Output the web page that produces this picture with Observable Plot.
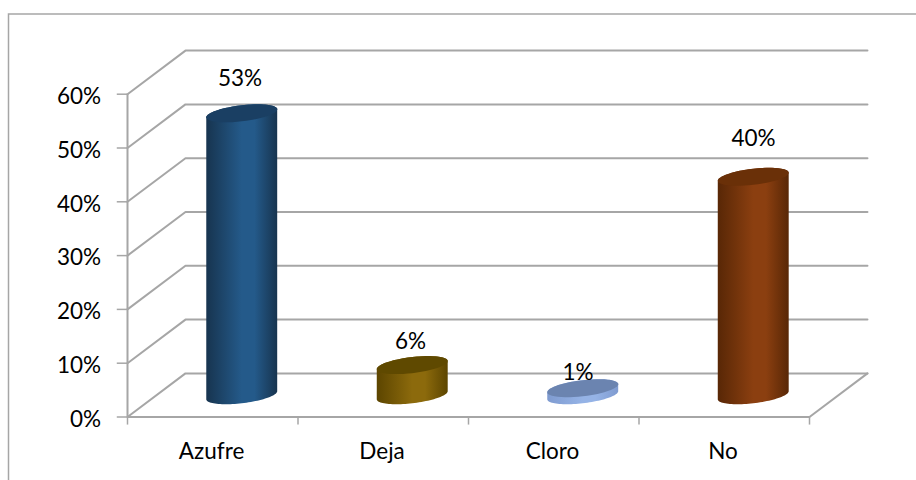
<!DOCTYPE html>
<html><head><meta charset="utf-8">
<script src="https://cdn.jsdelivr.net/npm/d3@7"></script>
<script src="https://cdn.jsdelivr.net/npm/@observablehq/plot@0.6"></script>
<style>html,body{margin:0;padding:0;background:#fff}svg{display:block}</style>
</head><body><div id="chart"></div>
<script>
const categories = ["Azufre", "Deja", "Cloro", "No"];
const barValues = [52.4, 5.6, 1.3, 40.6];
const valueLabels = ["53%", "6%", "1%", "40%"];
const yTicks = [0, 10, 20, 30, 40, 50, 60];

// 3-D projection, in data units (x: categories, y: percent)
const depthX = 0.34, depthY = 8.1;
const rx = 0.208, ry = 1.5, skew = 0.75, barDepth = 0.5;
const labelLift = [6.5, 4.4, 2.9, 7.0], labelShift = [-0.01, -0.01, -0.028, 0.002];

const ellipse = (cx, cy, a = 0, b = 2 * Math.PI, n = 48) =>
  d3.range(n + 1).map(i => {
    const t = a + (b - a) * i / n;
    return {x: cx + rx * Math.cos(t), y: cy + skew * Math.cos(t) - ry * Math.sin(t)};
  });
const gridColor = "#a6a6a6";
const palette = [
  {edge: "#17344f", mid: "#245a8a", top: "#1a3f63"},
  {edge: "#5c4500", mid: "#8c6a0c", top: "#5f4900"},
  {edge: "#7f9bd0", mid: "#95b3e6", top: "#6b84b0"},
  {edge: "#582706", mid: "#8b3f10", top: "#6a3008"}
];

const gridPaths = yTicks.map(v => ({v, pts: [
  {x: 0, y: v}, {x: depthX, y: v + depthY}, {x: 4 + depthX, y: v + depthY}
]}));
const floorEdge = [{x: 4, y: 0}, {x: 4 + depthX, y: depthY}];

const marks = [];
// Gradient definitions
marks.push(() => {
  const ns = "http://www.w3.org/2000/svg";
  const defs = document.createElementNS(ns, "defs");
  palette.forEach((p, i) => {
    const g = document.createElementNS(ns, "linearGradient");
    g.setAttribute("id", "side" + i);
    [[0, p.edge], [0.5, p.mid], [0.68, p.mid], [1, p.edge]].forEach(([o, c]) => {
      const s = document.createElementNS(ns, "stop");
      s.setAttribute("offset", o); s.setAttribute("stop-color", c);
      g.appendChild(s);
    });
    defs.appendChild(g);
  });
  return defs;
});
gridPaths.forEach(g => marks.push(Plot.line(g.pts, {x: "x", y: "y", stroke: gridColor, strokeWidth: 2, curve: "linear"})));
marks.push(Plot.line(floorEdge, {x: "x", y: "y", stroke: gridColor, strokeWidth: 2}));
marks.push(Plot.ruleX([0], {y1: 0, y2: 60, stroke: gridColor, strokeWidth: 2}));
marks.push(Plot.ruleY([0], {x1: 0, x2: 4, stroke: gridColor, strokeWidth: 2}));
marks.push(Plot.ruleX(d3.range(5), {y1: 0, y2: -1.5, stroke: gridColor, strokeWidth: 1.5}));
marks.push(Plot.ruleY(yTicks, {x1: -0.06, x2: 0, stroke: gridColor, strokeWidth: 1.5}));

categories.forEach((c, i) => {
  const cx = i + 0.5 + depthX * barDepth, base = depthY * barDepth;
  const top = base + barValues[i], p = palette[i];
  const side = [
    ...ellipse(cx, base, 0, Math.PI),
    ...ellipse(cx, top, Math.PI, 2 * Math.PI)
  ];
  marks.push(Plot.line(side, {x: "x", y: "y", fill: `url(#side${i})`, stroke: "none", curve: "linear"}));
  marks.push(Plot.line(ellipse(cx, top), {x: "x", y: "y", fill: p.top, stroke: "none", curve: "linear"}));
  marks.push(Plot.text([valueLabels[i]], {
    x: cx + labelShift[i], y: top + labelLift[i], text: d => d,
    fontSize: 22.5, fill: "#000", lineAnchor: "middle"
  }));
  marks.push(Plot.text([c], {x: i + 0.493, y: -6.5, text: d => d, fontSize: 22.5, fill: "#000", lineAnchor: "middle"}));
});
marks.push(Plot.text(yTicks, {x: -0.155, y: d => d, dy: 2.5, text: d => d + "%", fontSize: 22.5, fill: "#000", textAnchor: "end", lineAnchor: "middle"}));

const plot = Plot.plot({
  width: 916, height: 480, margin: 0,
  style: {fontFamily: "Lato, Carlito, sans-serif", background: "#fff"},
  x: {type: "linear", domain: [0, 4], range: [127, 809], axis: null},
  y: {type: "linear", domain: [0, 60], range: [416.5, 93.7], axis: null},
  marks: [
    () => {
      const ns = "http://www.w3.org/2000/svg";
      const r = document.createElementNS(ns, "rect");
      r.setAttribute("x", 8.5); r.setAttribute("y", 14);
      r.setAttribute("width", 1000); r.setAttribute("height", 1000);
      r.setAttribute("fill", "#fff"); r.setAttribute("stroke", "#a6a6a6"); r.setAttribute("stroke-width", 1.5);
      return r;
    },
    ...marks
  ]
});
document.getElementById("chart").appendChild(plot);
</script></body></html>
